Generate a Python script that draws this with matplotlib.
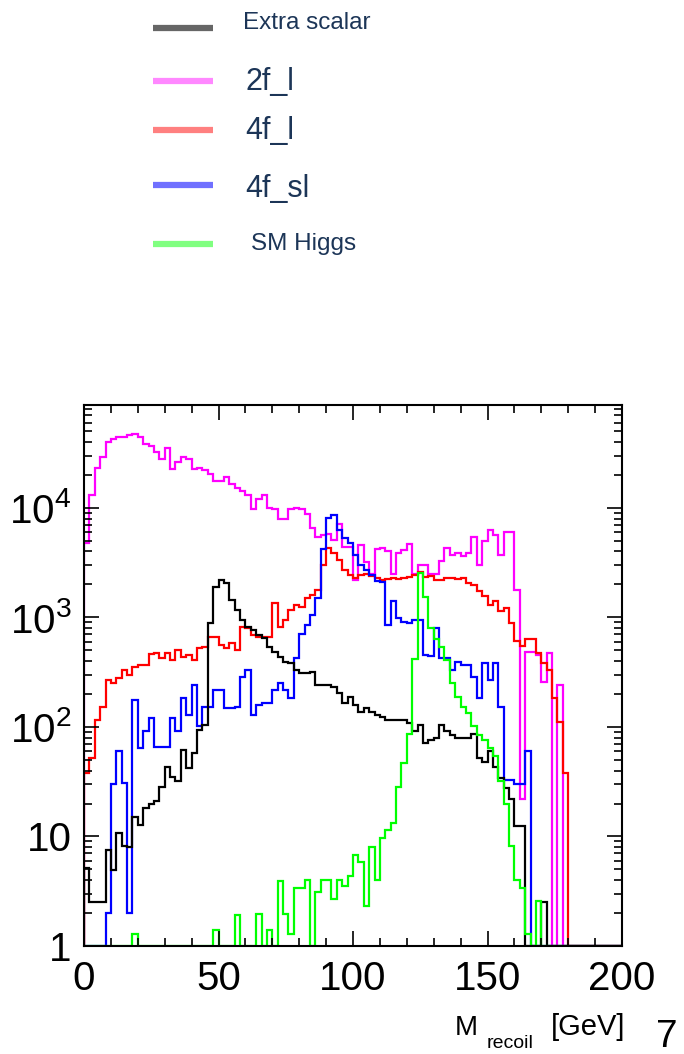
import numpy as np
import matplotlib
matplotlib.use('Agg')
import matplotlib.pyplot as plt
from matplotlib.lines import Line2D
from matplotlib.ticker import FixedLocator, MultipleLocator, LogLocator, NullFormatter, FixedFormatter

plt.rcParams['font.family'] = ['Liberation Sans', 'DejaVu Sans']
plt.rcParams['mathtext.fontset'] = 'custom'
plt.rcParams['mathtext.rm'] = 'Liberation Sans'
plt.rcParams['mathtext.it'] = 'Liberation Sans:italic'
plt.rcParams['mathtext.default'] = 'regular'

# recoil mass, 100 bins of 2 GeV from 0 to 200
edges = np.linspace(0, 200, 101)

extra_scalar = [
    5.2, 2.5, 2.5, 2.5, 7.5, 4.9, 10.8, 8.1, 8.0, 15.2,
    12.7, 18.2, 20, 21, 28.5, 43, 35, 32, 62, 42,
    58, 94, 104, 885, 1915, 2200, 2055, 1446, 1170, 948,
    824, 769, 692, 645, 542, 488, 439, 395, 381, 331,
    309, 309, 315, 242, 242, 242, 234, 203, 164, 189,
    159, 138, 148, 138, 129, 124, 116, 116, 116, 116,
    108, 91, 104, 71, 76, 79, 104, 91, 84, 79,
    79, 79, 87, 52, 48, 60, 43, 34, 27.5, 22,
    12.5, 12.5, 0, 0, 0, 2.5, 0, 0, 0, 0,
    0, 0, 0, 0, 0, 0, 0, 0, 0, 0]

bkg_2f_l = [
    4800, 13000, 23000, 29400, 40300, 43000, 44800, 44000, 46500, 47400,
    44000, 38600, 36900, 32500, 28000, 35200, 22500, 26200, 29400, 28000,
    22500, 23000, 22100, 20500, 17700, 17700, 19100, 16400, 15200, 14400,
    13100, 9700, 12100, 13100, 10000, 9700, 8000, 8000, 9700, 10000,
    9700, 8800, 6500, 5400, 5600, 5800, 5100, 7200, 4400, 4400,
    2200, 4600, 3200, 2500, 4200, 4300, 4000, 2500, 3850, 4100,
    4700, 2500, 3000, 3000, 2500, 2500, 3300, 4300, 3700, 3900,
    3600, 3850, 5470, 3020, 5000, 6300, 5670, 3720, 6080, 6080,
    1780, 22, 480, 480, 450, 260, 470, 0, 240, 0,
    0, 0, 0, 0, 0, 0, 0, 0, 0, 0]

bkg_4f_l = [
    38, 52, 116, 153, 269, 250, 280, 330, 300, 355,
    370, 370, 460, 470, 424, 471, 409, 505, 439, 454,
    409, 523, 542, 668, 668, 561, 523, 581, 505, 825,
    797, 692, 668, 668, 668, 1346, 825, 948, 1170, 1300,
    1256, 1500, 1600, 1780, 3000, 4280, 3850, 3350, 2720, 2450,
    2280, 2450, 2500, 2400, 2300, 2200, 2250, 2300, 2250, 2300,
    2350, 2450, 2620, 2350, 2400, 2200, 2200, 2300, 2280, 2250,
    2280, 2050, 1985, 1730, 1560, 1310, 1400, 1140, 1225, 890,
    610, 550, 630, 630, 471, 382, 332, 184, 111, 38,
    0, 0, 0, 0, 0, 0, 0, 0, 0, 0]

bkg_4f_sl = [
    0, 0, 0, 0, 2, 30, 60, 31, 2, 177,
    64, 91, 120, 66, 66, 66, 120, 91, 183, 129,
    242, 101, 153, 153, 218, 218, 148, 148, 153, 288,
    332, 129, 159, 164, 164, 218, 250, 218, 183, 424,
    700, 850, 1050, 1500, 4250, 8050, 8630, 6300, 5280, 4750,
    3720, 3020, 2720, 2450, 2130, 2100, 855, 1400, 984, 917,
    886, 949, 949, 455, 440, 800, 424, 424, 332, 394,
    368, 368, 288, 182, 381, 268, 381, 153, 33, 33,
    30, 30, 60, 0, 0, 0, 0, 0, 0, 0,
    0, 0, 0, 0, 0, 0, 0, 0, 0, 0]

sm_higgs = [
    0, 0, 0, 0, 0, 0, 0, 0, 0, 1.3,
    0, 0, 0, 0, 0, 0, 0, 0, 0, 0,
    0, 0, 0, 0, 1.4, 0, 0, 0, 1.9, 0,
    0, 0, 1.95, 0, 1.4, 0, 3.9, 1.95, 1.3, 3.4,
    3.4, 4.0, 0, 3.1, 4.0, 4.0, 2.7, 4.0, 3.5, 4.4,
    6.8, 5.9, 2.3, 8.0, 4.0, 9.6, 11.4, 13.2, 28.5, 46.5,
    87, 420, 2530, 1550, 800, 630, 540, 410, 250, 189,
    153, 133, 101, 85, 76, 64, 54, 32, 20, 8.1,
    4.0, 3.4, 1.3, 0, 2.6, 0, 0, 0, 0, 0,
    0, 0, 0, 0, 0, 0, 0, 0, 0, 0]

series = [
    (bkg_2f_l, '#ff00ff'),
    (bkg_4f_l, '#ff0000'),
    (bkg_4f_sl, '#0000ff'),
    (extra_scalar, '#000000'),
    (sm_higgs, '#00ff00'),
]

legend_items = [
    ('Extra scalar', '#666666', 17.5, 27.7, 29, 243),
    ('2f_l', '#ff88ff', 22, 81, 90, 245),
    ('4f_l', '#ff8080', 22, 130, 139, 245),
    ('4f_sl', '#7070ff', 22, 185, 197, 245),
    ('SM Higgs', '#80ff80', 17.5, 244, 250, 251),
]

W, H = 684, 1054
fig = plt.figure(figsize=(W / 100, H / 100), dpi=100)
ax = fig.add_axes([84 / W, 1 - 946 / H, 538 / W, 541 / H])

ymin = 1.0
for vals, col in series:
    v = np.clip(np.asarray(vals, dtype=float), ymin, None)
    ax.stairs(v, edges, baseline=ymin, color=col, lw=1.6)

ax.set_yscale('log')
ax.set_xlim(0, 200)
ax.set_ylim(ymin, 8.7e4)

ax.xaxis.set_major_locator(MultipleLocator(50))
ax.xaxis.set_minor_locator(MultipleLocator(10))
ax.yaxis.set_major_locator(FixedLocator([1, 10, 100, 1e3, 1e4]))
ax.yaxis.set_major_formatter(FixedFormatter(['1', '10', '$10^{2}$', '$10^{3}$', '$10^{4}$']))
ax.yaxis.set_minor_locator(LogLocator(base=10, subs=np.arange(2, 10), numticks=20))
ax.yaxis.set_minor_formatter(NullFormatter())

ax.tick_params(which='both', direction='in', top=True, right=True, width=1.2, colors='black')
ax.tick_params(which='major', length=11, labelsize=29)
ax.tick_params(which='minor', length=5.5)
ax.tick_params(axis='x', which='major', pad=10)
ax.tick_params(axis='y', which='major', pad=9)
for s in ax.spines.values():
    s.set_linewidth(1.5)

# legend above the frame
for label, col, fs, ly, by, tx in legend_items:
    fig.add_artist(Line2D([153 / W, 213 / W], [1 - ly / H, 1 - ly / H],
                          color=col, lw=4.5, solid_capstyle='butt'))
    fig.text(tx / W, 1 - by / H, label, fontsize=fs, color='#1c3557', va='baseline', ha='left')

# axis title and page number
fig.text(455 / W, 1 - 1035 / H, 'M', fontsize=20, va='baseline')
fig.text(487 / W, 1 - 1048 / H, 'recoil', fontsize=14, va='baseline')
fig.text(551 / W, 1 - 1035 / H, '[GeV]', fontsize=21, va='baseline')
fig.text(656 / W, 1 - 1047 / H, '7', fontsize=28, va='baseline')

fig.savefig('out.png', dpi=100)
